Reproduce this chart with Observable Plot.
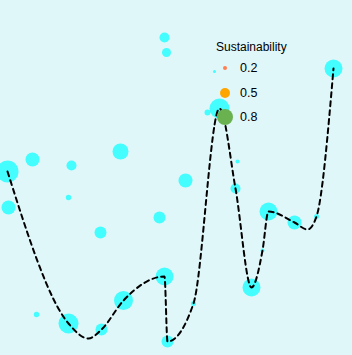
<!DOCTYPE html>
<html>
<head>
<meta charset="utf-8">
<script src="https://cdn.jsdelivr.net/npm/d3@7"></script>
<script src="https://cdn.jsdelivr.net/npm/@observablehq/plot@0.6"></script>
<style>
  html, body { margin: 0; padding: 0; background: #e0f7fa; }
  #wrap { position: relative; width: 352px; height: 355px; overflow: hidden; }
  #legend { position: absolute; left: 216px; top: 40px; font-family: "Liberation Sans", Arial, sans-serif; color: #000; }
  #legend .title { font-size: 12px; margin-bottom: 6px; }
  #legend .row { position: relative; height: 24.5px; }
  #legend .dot { position: absolute; border-radius: 50%; }
  #legend .lab { position: absolute; left: 24px; font-size: 12.5px; line-height: 14px; }
</style>
</head>
<body>
<div id="wrap"></div>
<script>
// Bubbles: position and sustainability
const dotX = [7, 68, 101, 123, 164, 167, 193, 219, 235, 251, 262, 268, 294, 316, 333,
              164, 166, 214, 207, 32, 71, 120, 68, 8, 185, 159, 100, 36, 237];
const dotY = [184, 32, 26, 55, 79, 14, 52, 247, 167, 68, 105, 144, 133, 139, 287,
              318, 303, 284, 243, 196, 190, 204, 158, 148, 175, 138, 123, 41, 194];
const dotS = [1.1, 1.0, 0.6, 0.95, 0.9, 0.6, 0.25, 1.0, 0.5, 0.9, 0.2, 0.9, 0.7, 0.25, 0.9,
              0.5, 0.45, 0.15, 0.3, 0.7, 0.5, 0.8, 0.27, 0.7, 0.7, 0.6, 0.6, 0.27, 0.2];

// Dashed trend path
const lineX = [7, 68, 88, 101, 123, 164, 167, 193, 219, 235, 251, 262, 268, 294, 307, 316, 333];
const lineY = [184, 32, 17, 26, 55, 79, 14, 52, 247, 167, 68, 105, 144, 133, 126, 139, 287];

// Legend
const legendTitle = "Sustainability";
const legendValues = [0.2, 0.5, 0.8];
const legendColors = ["#ff7f50", "#ffa500", "#6ab150"];

const dots = dotX.map((x, i) => ({x, y: dotY[i], s: dotS[i]}));
const path = lineX.map((x, i) => ({x, y: lineY[i]}));

const chart = Plot.plot({
  width: 352,
  height: 355,
  margin: 0,
  style: {background: "#e0f7fa"},
  x: {domain: [0, 352], axis: null},
  y: {domain: [0, 355], axis: null},
  r: {type: "linear", domain: [0, 1], range: [0, 10], clamp: false},
  marks: [
    Plot.dot(dots, {x: "x", y: "y", r: "s", fill: "cyan", fillOpacity: 0.7, stroke: "none"}),
    Plot.line(path, {x: "x", y: "y", curve: "monotone-x", stroke: "black", strokeWidth: 2, strokeDasharray: "5,4"})
  ]
});
const wrap = document.getElementById("wrap");
wrap.appendChild(chart);

const rScale = chart.scale("r");
const legend = document.createElement("div");
legend.id = "legend";
const t = document.createElement("div");
t.className = "title";
t.textContent = legendTitle;
legend.appendChild(t);
legendValues.forEach((v, i) => {
  const row = document.createElement("div");
  row.className = "row";
  const r = rScale.apply(v);
  const d = document.createElement("span");
  d.className = "dot";
  d.style.width = (2 * r) + "px";
  d.style.height = (2 * r) + "px";
  d.style.left = (9 - r) + "px";
  d.style.top = (8 - r) + "px";
  d.style.background = legendColors[i];
  row.appendChild(d);
  const l = document.createElement("span");
  l.className = "lab";
  l.style.top = "1px";
  l.textContent = String(v);
  row.appendChild(l);
  legend.appendChild(row);
});
wrap.appendChild(legend);
</script>
</body>
</html>
